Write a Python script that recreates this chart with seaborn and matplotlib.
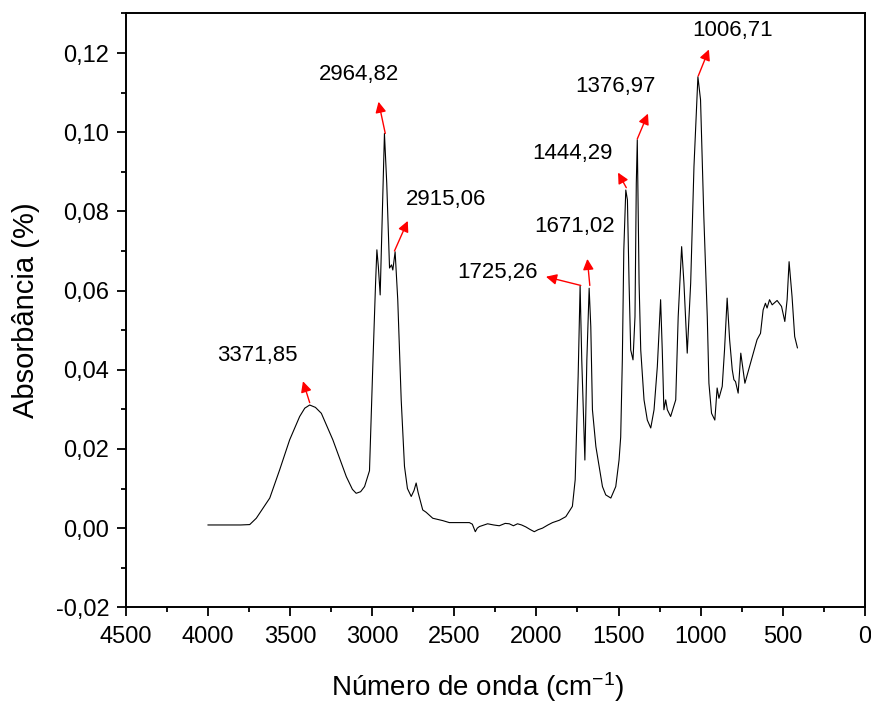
import matplotlib
matplotlib.use("Agg")
import matplotlib.pyplot as plt
import seaborn as sns
import pandas as pd
from matplotlib.ticker import MultipleLocator, FuncFormatter

wavenumber = [4000, 3900, 3800, 3745, 3705, 3623, 3563, 3502, 3441, 3410, 3380, 3345,
              3309, 3239, 3157, 3120, 3097, 3070, 3046, 3016, 2996, 2979, 2971, 2962,
              2951, 2941, 2925, 2911, 2894, 2882, 2874, 2860, 2844, 2823, 2803, 2785,
              2762, 2745, 2732, 2720, 2708, 2692, 2671, 2631, 2570, 2530, 2408, 2390,
              2372, 2360, 2347, 2297, 2260, 2226, 2190, 2165, 2140, 2115, 2090, 2064,
              2040, 2013, 1990, 1963, 1930, 1902, 1860, 1821, 1781, 1764, 1746, 1734,
              1724, 1705, 1693, 1679, 1669, 1659, 1638, 1618, 1598, 1578, 1547, 1517,
              1497, 1487, 1477, 1468, 1456, 1446, 1436, 1426, 1412, 1400, 1392, 1386,
              1375, 1365, 1345, 1325, 1304, 1284, 1264, 1244, 1234, 1224, 1213, 1203,
              1183, 1152, 1137, 1116, 1102, 1082, 1061, 1041, 1017, 1001, 981, 960,
              950, 934, 914, 900, 889, 869, 855, 839, 824, 808, 798, 788, 772, 756,
              731, 697, 657, 636, 620, 606, 596, 581, 565, 535, 508, 488, 474, 462,
              444, 428, 411]
absorbance = [0.0008, 0.0008, 0.0008, 0.0009, 0.0025, 0.0076, 0.0147, 0.0223, 0.0282, 0.0303, 0.0311, 0.0305,
              0.0290, 0.0223, 0.0130, 0.0098, 0.0088, 0.0092, 0.0105, 0.0145, 0.0408, 0.0619, 0.0703, 0.0660,
              0.0589, 0.0745, 0.0997, 0.0871, 0.0657, 0.0665, 0.0652, 0.0698, 0.0577, 0.0324, 0.0156, 0.0100,
              0.0080, 0.0095, 0.0114, 0.0090, 0.0071, 0.0046, 0.0040, 0.0025, 0.0019, 0.0014, 0.0014, 0.0010,
              -0.0009, 0.0000, 0.0004, 0.0011, 0.0008, 0.0006, 0.0012, 0.0011, 0.0006, 0.0011, 0.0008, 0.0003,
              -0.0003, -0.0009, -0.0004, 0.0000, 0.0008, 0.0014, 0.0020, 0.0029, 0.0055, 0.0122, 0.0383, 0.0612,
              0.0425, 0.0172, 0.0425, 0.0606, 0.0509, 0.0299, 0.0206, 0.0156, 0.0105, 0.0084, 0.0076, 0.0105,
              0.0172, 0.0230, 0.0425, 0.0703, 0.0854, 0.0829, 0.0619, 0.0450, 0.0425, 0.0534, 0.0871, 0.0981,
              0.0619, 0.0450, 0.0324, 0.0273, 0.0253, 0.0299, 0.0408, 0.0577, 0.0450, 0.0299, 0.0324, 0.0299,
              0.0282, 0.0324, 0.0534, 0.0711, 0.0619, 0.0442, 0.0619, 0.0913, 0.1140, 0.1082, 0.0787, 0.0534,
              0.0366, 0.0290, 0.0273, 0.0354, 0.0328, 0.0358, 0.0450, 0.0581, 0.0476, 0.0400, 0.0375, 0.0370, 0.0341, 0.0442,
              0.0366, 0.0417, 0.0476, 0.0492, 0.0551, 0.0568, 0.0556, 0.0577, 0.0564, 0.0575, 0.0560, 0.0522, 0.0577, 0.0673,
              0.0585, 0.0484, 0.0455]

peak_labels = ["3371,85", "2964,82", "2915,06", "1725,26", "1671,02", "1444,29", "1376,97", "1006,71"]
label_x = [3696, 3077, 2550, 2236, 1770, 1782, 1517, 809]
label_y = [0.0436, 0.1145, 0.0830, 0.0645, 0.0761, 0.0945, 0.1116, 0.1256]
arrow_tail_x = [3380, 2920, 2864, 1730, 1675, 1453, 1386, 1015]
arrow_tail_y = [0.0317, 0.0997, 0.0700, 0.0613, 0.0613, 0.0860, 0.0983, 0.1142]
arrow_head_x = [3421, 2961, 2783, 1942, 1690, 1503, 1321, 950]
arrow_head_y = [0.0371, 0.1077, 0.0776, 0.0635, 0.0680, 0.0898, 0.1047, 0.1209]

sns.set_theme(style="ticks")
plt.rcParams["font.family"] = ["Liberation Sans", "DejaVu Sans"]
plt.rcParams["mathtext.fontset"] = "custom"
plt.rcParams["mathtext.rm"] = "Liberation Sans"
plt.rcParams["mathtext.it"] = "Liberation Sans"

df = pd.DataFrame({"wn": wavenumber, "ab": absorbance})

fig = plt.figure(figsize=(8.71, 7.03), dpi=100)
ax = fig.add_axes([0.1443, 0.1361, 0.8488, 0.8459])
sns.lineplot(data=df, x="wn", y="ab", sort=False, estimator=None, color="black", linewidth=0.8, ax=ax)

ax.set_xlim(4500, 0)
ax.set_ylim(-0.02, 0.1302)
ax.xaxis.set_major_locator(MultipleLocator(500))
ax.xaxis.set_minor_locator(MultipleLocator(250))
ax.yaxis.set_major_locator(MultipleLocator(0.02))
ax.yaxis.set_minor_locator(MultipleLocator(0.01))
ax.yaxis.set_major_formatter(FuncFormatter(lambda v, p: f"{v:.2f}".replace(".", ",").replace("\u2212", "-")))
ax.xaxis.set_major_formatter(FuncFormatter(lambda v, p: f"{int(round(v))}"))

for s in ax.spines.values():
    s.set_linewidth(1.4)
    s.set_color("black")
ax.tick_params(which="major", direction="out", length=6.5, width=1.3, labelsize=17, colors="black")
ax.tick_params(which="minor", direction="out", length=3.5, width=1.3, colors="black")
ax.tick_params(axis="x", which="major", pad=6.8)
ax.tick_params(axis="y", which="major", pad=5.4)

ax.set_xlabel("Número de onda (cm$^{-1}$)", fontsize=20, color="black")
ax.xaxis.set_label_coords(0.4765, -0.105)
ax.set_ylabel("Absorbância (%)", fontsize=21, color="black")
ax.yaxis.set_label_coords(-0.116, 0.5)

for t, lx, ly, tx, ty, hx, hy in zip(peak_labels, label_x, label_y, arrow_tail_x, arrow_tail_y,
                                      arrow_head_x, arrow_head_y):
    ax.text(lx, ly, t, fontsize=16, ha="center", va="center", color="black")
    ax.annotate("", xy=(hx, hy), xytext=(tx, ty),
                arrowprops=dict(arrowstyle="-|>", color="red", lw=1.0, mutation_scale=16,
                                shrinkA=0, shrinkB=0))

fig.savefig("out.png", dpi=100)
